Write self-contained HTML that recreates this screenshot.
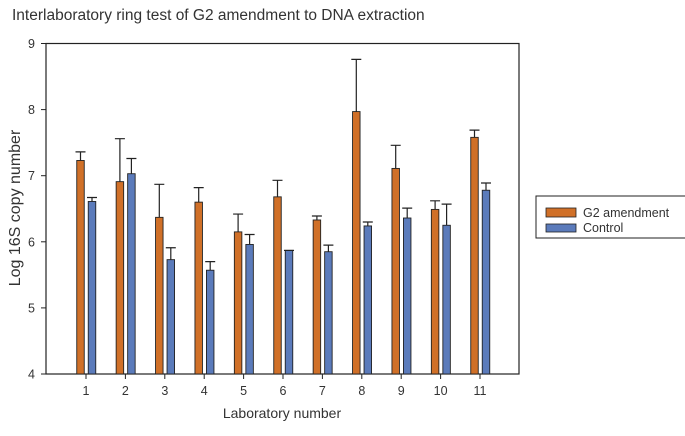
<!DOCTYPE html>
<html><head><meta charset="utf-8"><style>
body{margin:0;background:#fff;}
svg text{font-family:"Liberation Sans",Arial,sans-serif;fill:#333;}
</style></head><body>
<svg id="chart" width="685" height="431" viewBox="0 0 685 431">
<text x="12" y="20" font-size="15.5">Interlaboratory ring test of G2 amendment to DNA extraction</text>
<rect x="46" y="43.5" width="473" height="330.5" fill="none" stroke="#222" stroke-width="1.2"/>
<g id="bars"></g>
<g id="axes"></g>
<text transform="translate(20,208) rotate(-90)" text-anchor="middle" font-size="16">Log 16S copy number</text>
<text x="282" y="418" text-anchor="middle" font-size="14">Laboratory number</text>
<g>
<rect x="536" y="196" width="160" height="42" fill="#fff" stroke="#222" stroke-width="1"/>
<rect x="546" y="208" width="30" height="9" fill="#d07028" stroke="#222" stroke-width="0.8"/>
<text x="583" y="217" font-size="12.5">G2 amendment</text>
<rect x="546" y="224" width="30" height="8" fill="#5b7bbb" stroke="#222" stroke-width="0.8"/>
<text x="583" y="232" font-size="12.5">Control</text>
</g>
</svg>
<script>
const categories=["1","2","3","4","5","6","7","8","9","10","11"];
const g2Values=[7.23,6.91,6.37,6.60,6.15,6.68,6.33,7.97,7.11,6.49,7.58];
const g2ErrTop=[7.36,7.56,6.87,6.82,6.42,6.93,6.39,8.76,7.46,6.62,7.69];
const controlValues=[6.61,7.03,5.73,5.57,5.96,5.87,5.85,6.24,6.36,6.25,6.78];
const controlErrTop=[6.67,7.26,5.91,5.70,6.11,5.87,5.95,6.30,6.51,6.57,6.89];
const yTicks=[4,5,6,7,8,9];

const NS="http://www.w3.org/2000/svg";
const y=v=>374-(v-4)*66.1;
const x=i=>86+i*39.4;
function mk(tag,attrs,parent){const e=document.createElementNS(NS,tag);for(const k in attrs)e.setAttribute(k,attrs[k]);parent.appendChild(e);return e;}
const bars=document.getElementById('bars'),axes=document.getElementById('axes');
const series=[[g2Values,g2ErrTop,'#d07028',-5.5,'g2'],[controlValues,controlErrTop,'#5b7bbb',6,'control']];
categories.forEach((c,i)=>{
  series.forEach(([vals,errs,col,off,nm])=>{
    const cx=x(i)+off,w=7.5;
    const r=mk('rect',{x:cx-w/2,y:y(vals[i]),width:w,height:374-y(vals[i]),fill:col,stroke:'#222','stroke-width':0.9},bars);
    
    
    const eg=mk('path',{d:`M${cx},${y(vals[i])}V${y(errs[i])}M${cx-5},${y(errs[i])}H${cx+5}`,stroke:'#222','stroke-width':1.2,fill:'none'},bars);
    
    
  });
  const t=mk('line',{x1:x(i),x2:x(i),y1:374,y2:379,stroke:'#222'},axes);
  
  
  const l=mk('text',{x:x(i),y:395,'text-anchor':'middle','font-size':12.5},axes);
  l.textContent=c;
  
  
});
yTicks.forEach(v=>{
  const t=mk('line',{x1:41,x2:46,y1:y(v),y2:y(v),stroke:'#222'},axes);
  
  
  const l=mk('text',{x:35,y:y(v)+4.5,'text-anchor':'end','font-size':12.5},axes);
  l.textContent=v;
  
  
});
</script>
</body></html>
